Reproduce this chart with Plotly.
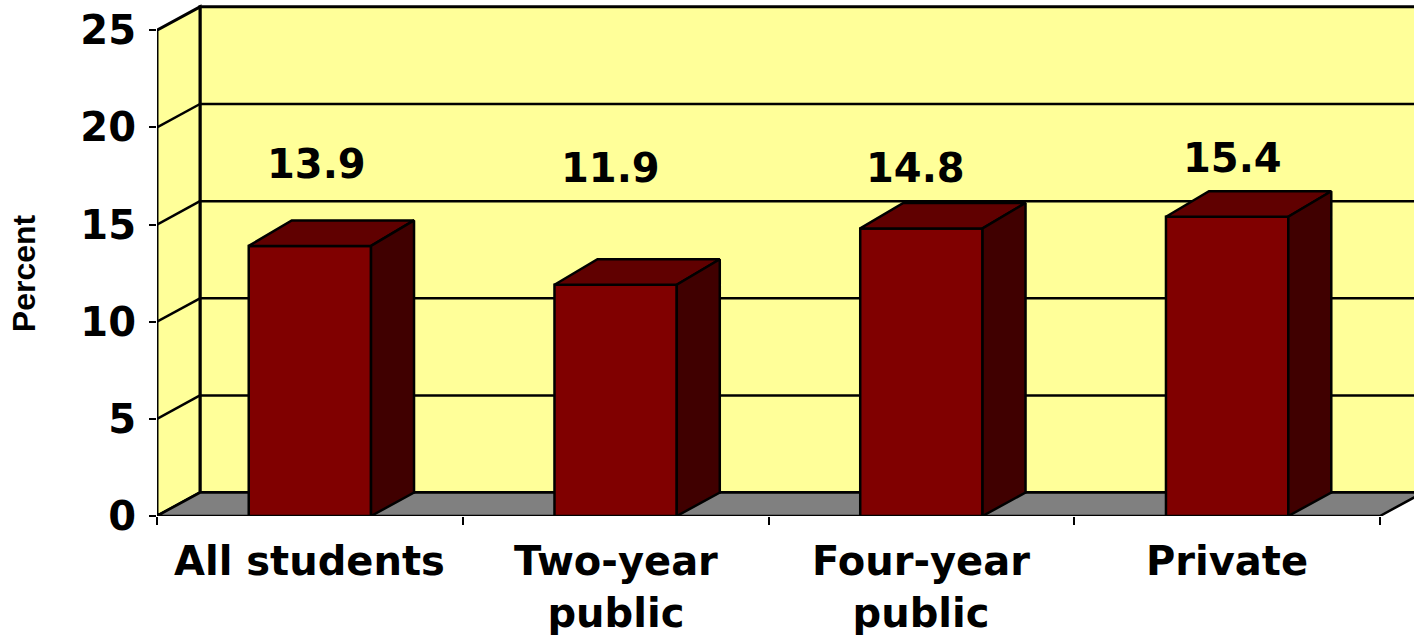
import plotly.graph_objects as go

# ---------------- data ----------------
categories = ["All students", "Two-year<br>public", "Four-year<br>public", "Private"]
values = [13.9, 11.9, 14.8, 15.4]
value_labels = ["13.9", "11.9", "14.8", "15.4"]
y_ticks = [0, 5, 10, 15, 20, 25]
y_title = "Percent"

# ---------------- style / geometry ----------------
W, H = 1414, 635
ML, MB = 157, 119
PX_PER_CAT = 305.75
PX_PER_UNIT = 19.43
DEPTH_X_PX = 43
DEPTH_Y_PX = 23.4
BAR_TOP_DEPTH_Y_PX = 25.5
BAR_WIDTH = 0.4

YELLOW = "#FFFF99"
FRONT = "#800000"
TOP = "#600000"
SIDE = "#400000"
FLOOR = "#808080"

label_y = [18.1, 17.9, 17.9, 18.4]      # data-label positions (axis units)
label_xshift = [7, -5, -6, 5]

FONT_BIG = dict(family="DejaVu Sans", size=40, color="black", weight="bold")

x_lo = -0.5
x_hi = x_lo + (W - ML) / PX_PER_CAT
y_hi = (H - MB) / PX_PER_UNIT
y_max = y_ticks[-1]
dx = DEPTH_X_PX / PX_PER_CAT
dyw = DEPTH_Y_PX / PX_PER_UNIT
dyt = BAR_TOP_DEPTH_Y_PX / PX_PER_UNIT
n = len(categories)
x_right = n - 0.5

shapes = []
# back wall
shapes.append(dict(type="rect", xref="x", yref="y", x0=x_lo + dx, x1=x_hi + 1,
                   y0=dyw, y1=y_max + dyw, fillcolor=YELLOW,
                   line=dict(color="black", width=3), layer="below"))
# left side wall
shapes.append(dict(type="path", xref="x", yref="y",
                   path=f"M {x_lo},0 L {x_lo},{y_max} L {x_lo+dx},{y_max+dyw} L {x_lo+dx},{dyw} Z",
                   fillcolor=YELLOW, line=dict(color="black", width=3), layer="below"))
# gridlines
for v in y_ticks[1:-1]:
    shapes.append(dict(type="line", xref="x", yref="y", x0=x_lo + dx, x1=x_hi + 1,
                       y0=v + dyw, y1=v + dyw, line=dict(color="black", width=2.5), layer="below"))
    shapes.append(dict(type="line", xref="x", yref="y", x0=x_lo, x1=x_lo + dx,
                       y0=v, y1=v + dyw, line=dict(color="black", width=2.5), layer="below"))
# floor
shapes.append(dict(type="path", xref="x", yref="y",
                   path=f"M {x_lo},0 L {x_lo+dx},{dyw} L {x_right+dx},{dyw} L {x_right},0 Z",
                   fillcolor=FLOOR, line=dict(color="black", width=2.5), layer="below"))

fig = go.Figure()

xs = list(range(n))
fig.add_trace(go.Bar(x=xs, y=values, width=BAR_WIDTH, marker=dict(color=FRONT,
                     line=dict(color="black", width=2.5)), hoverinfo="skip"))

for i, v in zip(xs, values):
    l = i - BAR_WIDTH / 2
    r = i + BAR_WIDTH / 2
    # top face
    fig.add_trace(go.Scatter(x=[l, l + dx, r + dx, r, l], y=[v, v + dyt, v + dyt, v, v],
                             mode="lines", fill="toself", fillcolor=TOP,
                             line=dict(color="black", width=2.5), hoverinfo="skip"))
    # side face
    fig.add_trace(go.Scatter(x=[r, r + dx, r + dx, r, r], y=[0, dyw, v + dyt, v, 0],
                             mode="lines", fill="toself", fillcolor=SIDE,
                             line=dict(color="black", width=2.5), hoverinfo="skip"))

annotations = []
for i, txt in enumerate(categories):
    annotations.append(dict(x=i, y=0, xref="x", yref="y", text=txt, showarrow=False,
                            xanchor="center", yanchor="top", yshift=-20, font=FONT_BIG,
                            align="center"))
for i, (txt, ly, xs_) in enumerate(zip(value_labels, label_y, label_xshift)):
    annotations.append(dict(x=i, y=ly, xref="x", yref="y", text=txt, showarrow=False,
                            xanchor="center", yanchor="middle", xshift=xs_, font=FONT_BIG))
annotations.append(dict(x=(24 - ML) / (W - ML), y=12.5, xref="paper", yref="y",
                        text=y_title, showarrow=False, textangle=-90,
                        xanchor="center", yanchor="middle",
                        font=dict(family="Liberation Sans", size=32, color="black", weight="bold")))

fig.update_layout(
    width=W, height=H,
    margin=dict(l=ML, r=0, t=0, b=MB, pad=0),
    paper_bgcolor="white", plot_bgcolor="white",
    showlegend=False,
    shapes=shapes,
    annotations=annotations,
    xaxis=dict(range=[x_lo, x_hi], tickvals=[k - 0.5 for k in range(n + 1)],
               showticklabels=False, ticks="outside", ticklen=8, tickwidth=2,
               tickcolor="black", showgrid=False, zeroline=False, showline=False,
               fixedrange=True),
    yaxis=dict(range=[0, y_hi], tickvals=y_ticks, ticktext=[str(t) for t in y_ticks],
               ticks="outside", ticklen=7, tickwidth=2, tickcolor="black",
               showgrid=False, zeroline=False, showline=False, tickfont=FONT_BIG,
               ticklabelstandoff=5, fixedrange=True),
)

fig.write_html("out.html", config={"displayModeBar": False},
               post_script="document.body.style.margin='0';")
